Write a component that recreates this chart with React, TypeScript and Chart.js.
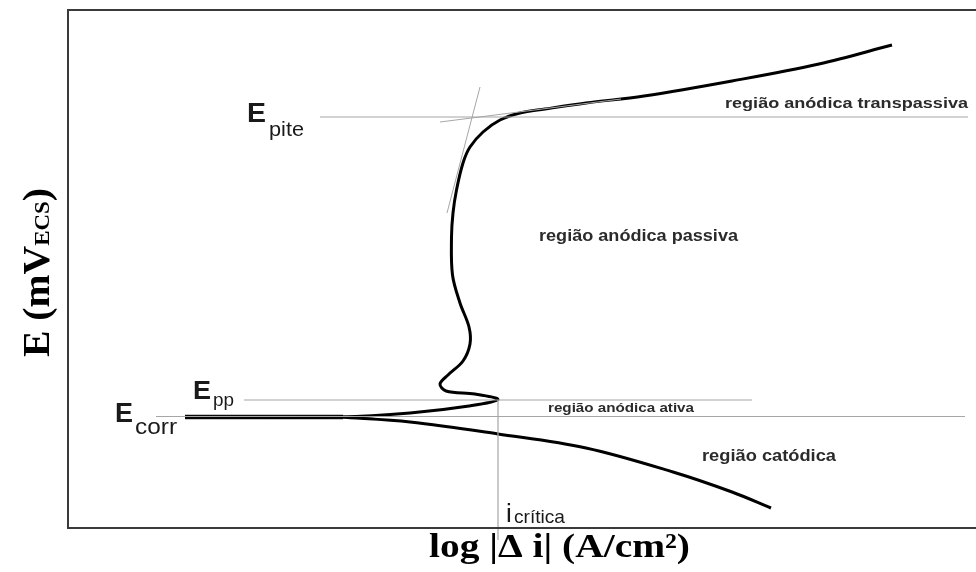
import React, { useEffect, useRef } from "react";
import { Chart, registerables } from "chart.js";

Chart.register(...registerables);

// log|Δi| (arbitrary log units) and E (mV)
const anodicLogI = [1.17, 2.72, 3.42, 4.01, 4.3, 4.07, 3.78, 3.72, 3.8, 3.95, 4.02, 4.01, 3.92, 3.845, 3.835, 3.85, 3.885, 3.95, 4.02, 4.15, 4.32, 4.52, 4.77, 5.18, 5.76, 6.64, 7.51, 8.24];
const anodicE = [111, 111, 115, 122, 128.5, 134, 137, 144, 153, 167, 184, 201, 225, 253, 291, 315, 338, 365, 381, 396, 408, 415, 419, 425, 432, 447, 464, 483];
const cathodicLogI = [2.72, 3.42, 4.3, 5.18, 6.05, 6.64, 7.03];
const cathodicE = [111, 106, 94, 80, 56, 36, 20];
const plateauLogI = [1.17, 2.75];
const plateauE = [111, 111];

// reference lines
const ePite = 411;
const ePiteRange = [2.52, 9.0];
const ePp = 128;
const ePpRange = [1.76, 6.84];
const eCorr = 111.5;
const eCorrRange = [0.88, 8.97];
const iCritica = 4.3;
const iCriticaRange = [128, -12];
const tangentPassiveLogI = [4.12, 3.79];
const tangentPassiveE = [441, 315];
const tangentTransLogI = [3.72, 5.53];
const tangentTransE = [406, 429];

// region labels: text, logI (left), E (baseline), width
const regionTexts = ["região anódica transpassiva", "região anódica passiva", "região anódica ativa", "região catódica"];
const regionLogI = [6.57, 4.71, 4.8, 6.34];
const regionE = [420, 287, 116, 67];
const regionWidths = [243, 199, 146, 134];
const regionFontSizes = [15, 16, 12, 16];

const xMin = 0;
const xMax = 9.07;
const yMin = 0;
const yMax = 518;

const toPts = (xs: number[], ys: number[]) => xs.map((x, i) => ({ x, y: ys[i] }));

function fitText(ctx: CanvasRenderingContext2D, text: string, x: number, y: number, font: string, width?: number) {
  ctx.save();
  ctx.font = font;
  ctx.textBaseline = "alphabetic";
  ctx.textAlign = "left";
  const w = ctx.measureText(text).width;
  ctx.translate(x, y);
  if (width && w > 0) ctx.scale(width / w, 1);
  ctx.fillText(text, 0, 0);
  ctx.restore();
}

const annotationPlugin = {
  id: "polarizationAnnotations",
  afterDatasetsDraw(chart: any) {
    const { ctx, chartArea, scales, width } = chart;
    const xs = scales.x;
    const ys = scales.y;
    const px = (v: number) => xs.getPixelForValue(v);
    const py = (v: number) => ys.getPixelForValue(v);

    // frame: left, top, bottom (no right edge)
    ctx.save();
    ctx.strokeStyle = "#3a3a3a";
    ctx.lineWidth = 2;
    ctx.beginPath();
    ctx.moveTo(width, chartArea.top);
    ctx.lineTo(chartArea.left, chartArea.top);
    ctx.lineTo(chartArea.left, chartArea.bottom);
    ctx.lineTo(width, chartArea.bottom);
    ctx.stroke();
    ctx.restore();

    ctx.save();
    ctx.fillStyle = "#1a1a1a";
    // E_pite
    fitText(ctx, "E", px(1.79), py(406), "bold 28px 'Liberation Sans', Arial, sans-serif", 19);
    fitText(ctx, "pite", px(2.01), py(392), "20px 'Liberation Sans', Arial, sans-serif", 35);
    // E_corr
    fitText(ctx, "E", px(0.47), py(106), "bold 28px 'Liberation Sans', Arial, sans-serif", 18);
    fitText(ctx, "corr", px(0.67), py(94), "22px 'Liberation Sans', Arial, sans-serif", 42);
    // E_pp
    fitText(ctx, "E", px(1.25), py(129), "bold 26px 'Liberation Sans', Arial, sans-serif", 18);
    fitText(ctx, "pp", px(1.45), py(122), "19px 'Liberation Sans', Arial, sans-serif", 21);
    // i_crítica
    fitText(ctx, "i", px(4.38), py(6), "26px 'Liberation Sans', Arial, sans-serif");
    fitText(ctx, "crítica", px(4.46), py(5), "19px 'Liberation Sans', Arial, sans-serif", 51);

    // region labels
    ctx.fillStyle = "#2b2b2b";
    regionTexts.forEach((t, i) => {
      fitText(ctx, t, px(regionLogI[i]), py(regionE[i]), `bold ${regionFontSizes[i]}px 'Liberation Sans', Arial, sans-serif`, regionWidths[i]);
    });

    // x axis title
    ctx.fillStyle = "#000";
    fitText(ctx, "log |Δ i| (A/cm²)", 429, 557, "bold 34px 'Liberation Serif', 'Times New Roman', serif", 261);

    // y axis title (rotated)
    ctx.save();
    ctx.translate(49, 357);
    ctx.rotate(-Math.PI / 2);
    ctx.font = "bold 38px 'Liberation Serif', 'Times New Roman', serif";
    const a = "E (mV";
    const wa = ctx.measureText(a).width;
    ctx.font = "bold 22px 'Liberation Serif', 'Times New Roman', serif";
    const b = "ECS";
    const wb = ctx.measureText(b).width;
    ctx.font = "bold 38px 'Liberation Serif', 'Times New Roman', serif";
    const c = ")";
    const wc = ctx.measureText(c).width;
    const total = wa + wb + wc;
    const s = 169 / total;
    ctx.scale(s, 1);
    ctx.textBaseline = "alphabetic";
    ctx.fillText(a, 0, 0);
    ctx.font = "bold 22px 'Liberation Serif', 'Times New Roman', serif";
    ctx.fillText(b, wa, 0);
    ctx.font = "bold 38px 'Liberation Serif', 'Times New Roman', serif";
    ctx.fillText(c, wa + wb, 0);
    ctx.restore();

    ctx.restore();
  },
};

export default function App() {
  const canvasRef = useRef<HTMLCanvasElement | null>(null);

  useEffect(() => {
    if (!canvasRef.current) return;
    const refColor = "#a6a6a6";
    const refLine = (label: string, data: { x: number; y: number }[], extra: any = {}) => ({
      label,
      data,
      showLine: true,
      borderColor: refColor,
      borderWidth: 1.2,
      pointRadius: 0,
      tension: 0,
      ...extra,
    });

    const chart = new Chart(canvasRef.current, {
      type: "scatter",
      data: {
        datasets: [
          refLine("E pite", [{ x: ePiteRange[0], y: ePite }, { x: ePiteRange[1], y: ePite }]),
          refLine("E pp", [{ x: ePpRange[0], y: ePp }, { x: ePpRange[1], y: ePp }]),
          refLine("E corr", [{ x: eCorrRange[0], y: eCorr }, { x: eCorrRange[1], y: eCorr }]),
          refLine("i crítica", [{ x: iCritica, y: iCriticaRange[0] }, { x: iCritica, y: iCriticaRange[1] }], { clip: false }),
          refLine("tangente passiva", toPts(tangentPassiveLogI, tangentPassiveE), { borderWidth: 1 }),
          refLine("tangente transpassiva", toPts(tangentTransLogI, tangentTransE), { borderWidth: 1 }),
          {
            label: "anódica",
            data: toPts(anodicLogI, anodicE),
            showLine: true,
            borderColor: "#000",
            borderWidth: 3,
            pointRadius: 0,
            tension: 0.35,
          },
          {
            label: "catódica",
            data: toPts(cathodicLogI, cathodicE),
            showLine: true,
            borderColor: "#000",
            borderWidth: 3,
            pointRadius: 0,
            tension: 0.35,
          },
          {
            label: "E corr patamar",
            data: toPts(plateauLogI, plateauE),
            showLine: true,
            borderColor: "#111",
            borderWidth: 4.5,
            pointRadius: 0,
            tension: 0,
          },
        ],
      },
      options: {
        animation: false,
        responsive: false,
        devicePixelRatio: 1,
        layout: { padding: { left: 68, right: 1, top: 10, bottom: 44 } },
        plugins: { legend: { display: false }, tooltip: { enabled: false } },
        scales: {
          x: { type: "linear", min: xMin, max: xMax, display: false },
          y: { type: "linear", min: yMin, max: yMax, display: false },
        },
      },
      plugins: [annotationPlugin],
    });
    return () => chart.destroy();
  }, []);

  return (
    <div style={{ position: "fixed", left: 0, top: 0, width: 976, height: 572, background: "#fff" }}>
      <canvas ref={canvasRef} width={976} height={572} style={{ width: 976, height: 572, display: "block" }} />
    </div>
  );
}
